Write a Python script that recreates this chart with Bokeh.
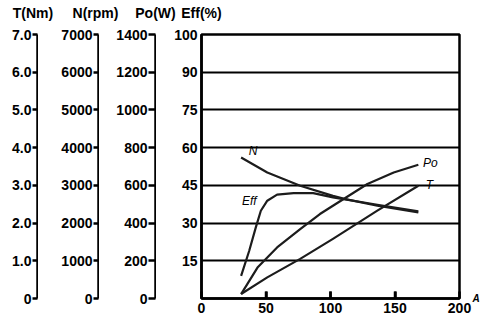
import math
from bokeh.plotting import figure
from bokeh.layouts import column, row
from bokeh.models import Range1d, FixedTicker, LinearAxis
from bokeh.embed import file_html
from bokeh.resources import INLINE
from bokeh.core.properties import value

# ---- data ----
n_current = [30.7, 51.0, 76.5, 101.9, 110.8, 136.3, 168.1]
n_speed = [3740, 3340, 2990, 2720, 2640, 2460, 2280]

eff_current = [30.7, 37.0, 42.1, 46.0, 51.0, 58.6, 71.4, 86.6, 101.9, 136.3, 168.1]
eff_pct = [9.0, 19.0, 28.3, 34.9, 38.9, 41.3, 41.9, 41.9, 40.2, 37.3, 34.7]

po_current = [30.7, 43.4, 58.6, 76.5, 91.8, 101.9, 128.6, 149.0, 168.1]
po_watt = [23, 164, 271, 368, 448, 492, 607, 668, 709]

t_current = [30.7, 51.0, 76.5, 101.9, 136.3, 168.1]
t_torque = [0.12, 0.56, 1.05, 1.58, 2.33, 2.99]

t_ticks = [0, 1, 2, 3, 4, 5, 6, 7]
t_labels = ["0", "1.0", "2.0", "3.0", "4.0", "5.0", "6.0", "7.0"]
n_ticks = [0, 1000, 2000, 3000, 4000, 5000, 6000, 7000]
n_labels = ["0", "1000", "2000", "3000", "4000", "5000", "6000", "7000"]
po_ticks = [0, 200, 400, 600, 800, 1000, 1200, 1400]
po_labels = ["0", "200", "400", "600", "800", "1000", "1200", "1400"]
eff_ticks = [15, 30, 45, 60, 75, 90, 105]
eff_labels = ["15", "30", "45", "60", "75", "90", "100"]
x_ticks = [0, 50, 100, 150, 200]
x_labels = ["0", "50", "100", "150", "200"]

titles = ["T(Nm)", "N(rpm)", "Po(W)", "Eff(%)"]
x_unit = "A"

FONT = "Liberation Sans"
INK = "black"
CURVE = "#1c1c1c"

STRIP_H = 22
ROW_H = 300
TOP, BOTTOM = 12, 24          # borders of the charts row


def bare(fig):
    fig.background_fill_color = "white"
    fig.border_fill_color = "white"
    fig.outline_line_color = None
    fig.grid.visible = False


def style(ax, ticks, labels, tick_out, tick_in, standoff):
    ax.ticker = FixedTicker(ticks=ticks)
    ax.major_label_overrides = {t: l for t, l in zip(ticks, labels)}
    ax.major_tick_out = tick_out
    ax.major_tick_in = tick_in
    ax.minor_tick_out = 0
    ax.minor_tick_in = 0
    ax.axis_line_color = INK
    ax.axis_line_width = 2.5
    ax.major_tick_line_color = INK
    ax.major_tick_line_width = 2.5
    ax.major_label_standoff = standoff
    ax.major_label_text_font = FONT
    ax.major_label_text_font_style = "bold"
    ax.major_label_text_font_size = "14px"
    ax.major_label_text_color = INK


def scale_fig(width, border_left, yr, ticks, labels, tick_out):
    f = figure(width=width, height=ROW_H, output_backend="svg", toolbar_location=None,
               x_range=Range1d(0, 1), y_range=yr,
               min_border_left=border_left, min_border_right=0,
               min_border_top=TOP, min_border_bottom=BOTTOM)
    bare(f)
    f.xaxis.visible = False
    style(f.yaxis[0], ticks, labels, tick_out, 0, 1)
    return f


# separate scale axes, left of the chart
f_t = scale_fig(38, 37, Range1d(0, 7), t_ticks, t_labels, 5)
f_n = scale_fig(61, 60, Range1d(0, 7000), n_ticks, n_labels, 5)
f_po = scale_fig(57, 56, Range1d(0, 1400), po_ticks, po_labels, 7)

# main chart (Eff scale on its own axis)
p = figure(width=326, height=ROW_H, output_backend="svg", toolbar_location=None,
           x_range=Range1d(0, 200), y_range=Range1d(0, 105),
           min_border_left=45, min_border_right=20, min_border_top=TOP, min_border_bottom=BOTTOM)
p.extra_y_ranges = {"T": f_t.y_range, "N": f_n.y_range, "Po": f_po.y_range}
p.background_fill_color = "white"
p.border_fill_color = "white"
p.outline_line_color = INK
p.outline_line_width = 2.5
p.xgrid.visible = False
p.ygrid.ticker = FixedTicker(ticks=eff_ticks)
p.ygrid.grid_line_color = INK
p.ygrid.grid_line_width = 2
style(p.yaxis[0], eff_ticks, eff_labels, 0, 0, 4)
style(p.xaxis[0], x_ticks, x_labels, 0, 7, 4)

# inward tick marks on the current axis
inner = x_ticks[1:-1]
p.ray(x=inner, y=[0] * len(inner), length=7, length_units="screen", angle=math.pi / 2,
      line_color=INK, line_width=2.5)

# unit of the x axis, written beside the last tick label
unit_ax = LinearAxis(ticker=FixedTicker(ticks=[0]), major_label_overrides={0: x_unit},
                     major_tick_out=0, major_tick_in=0, minor_tick_out=0, minor_tick_in=0,
                     axis_line_color=None, major_tick_line_color=None,
                     major_label_standoff=13, major_label_text_font=FONT,
                     major_label_text_font_style="bold italic", major_label_text_font_size="10px",
                     major_label_text_color=INK)
p.add_layout(unit_ax, "right")

p.line(n_current, n_speed, y_range_name="N", line_color=CURVE, line_width=2.2, line_join="round")
p.line(eff_current, eff_pct, line_color=CURVE, line_width=2.2, line_join="round")
p.line(po_current, po_watt, y_range_name="Po", line_color=CURVE, line_width=2.2, line_join="round")
p.line(t_current, t_torque, y_range_name="T", line_color=CURVE, line_width=2.2, line_join="round")

lab = dict(text_font=value(FONT), text_font_style="italic", text_font_size="12px",
           text_color=INK, text_align="center", text_baseline="middle")
p.text(x=[n_current[0]], y=[n_speed[0]], text=["N"], y_range_name="N", x_offset=12, y_offset=-6, **lab)
p.text(x=[eff_current[4]], y=[eff_pct[4]], text=["Eff"], x_offset=-18, y_offset=0, **lab)
p.text(x=[po_current[-1]], y=[po_watt[-1]], text=["Po"], y_range_name="Po", x_offset=12, y_offset=-2, **lab)
p.text(x=[t_current[-1]], y=[t_torque[-1]], text=["T"], y_range_name="T", x_offset=11, y_offset=-1, **lab)

# titles above the scales
strip = figure(width=482, height=STRIP_H, output_backend="svg", toolbar_location=None,
               x_range=Range1d(0, 482), y_range=Range1d(0, STRIP_H), min_border=0)
bare(strip)
strip.axis.visible = False
strip.text(x=[32.5, 95, 155, 201], y=[STRIP_H - 12.5] * 4, text=titles, text_font=value(FONT),
           text_font_style="bold", text_font_size="14px", text_color=INK,
           text_align="center", text_baseline="middle")

layout = column(strip, row(f_t, f_n, f_po, p, spacing=0), spacing=0)
open("out.html", "w").write(file_html(layout, INLINE))
